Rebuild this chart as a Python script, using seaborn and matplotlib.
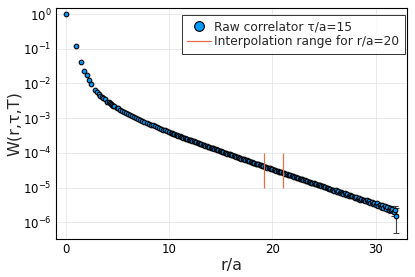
import matplotlib
matplotlib.use("Agg")
import numpy as np
import pandas as pd
import seaborn as sns
import matplotlib.pyplot as plt
from matplotlib.lines import Line2D
from matplotlib.ticker import NullLocator

# raw correlator W(r, tau=15) vs r/a
r_short = [0.0, 1.0, 1.414, 1.732, 2.0, 2.236, 2.449,
           2.828, 3.0, 3.162, 3.317, 3.464, 3.606, 3.742, 4.0, 4.123, 4.243,
           4.359, 4.472, 4.583, 4.69, 4.899, 5.0,
           5.2, 5.4, 5.6, 5.8, 6.0, 6.2, 6.4, 6.6, 6.8, 7.0,
           7.2, 7.4, 7.6, 7.8, 8.0, 8.2, 8.4, 8.6, 8.8, 9.0,
           9.2, 9.4, 9.6, 9.8, 10.0]
w_short = [1.0, 0.118, 0.041, 0.023, 0.0175, 0.0126, 0.0098,
           6.32e-3, 5.55e-3, 4.94e-3, 4.46e-3, 4.06e-3, 3.74e-3, 3.46e-3, 3.02e-3, 2.84e-3, 2.68e-3,
           2.54e-3, 2.41e-3, 2.29e-3, 2.19e-3, 2.00e-3, 1.92e-3,
           1.77e-3, 1.64e-3, 1.52e-3, 1.41e-3, 1.32e-3, 1.23e-3, 1.15e-3, 1.07e-3, 1.01e-3, 9.43e-4,
           8.86e-4, 8.33e-4, 7.83e-4, 7.38e-4, 6.95e-4, 6.55e-4, 6.18e-4, 5.84e-4, 5.52e-4, 5.21e-4,
           4.93e-4, 4.67e-4, 4.42e-4, 4.18e-4, 3.96e-4]

r_long = [10.125, 10.25, 10.375, 10.5, 10.625, 10.75, 10.875, 11.0,
          11.125, 11.25, 11.375, 11.5, 11.625, 11.75, 11.875, 12.0,
          12.125, 12.25, 12.375, 12.5, 12.625, 12.75, 12.875, 13.0,
          13.125, 13.25, 13.375, 13.5, 13.625, 13.75, 13.875, 14.0,
          14.125, 14.25, 14.375, 14.5, 14.625, 14.75, 14.875, 15.0,
          15.125, 15.25, 15.375, 15.5, 15.625, 15.75, 15.875, 16.0,
          16.125, 16.25, 16.375, 16.5, 16.625, 16.75, 16.875, 17.0,
          17.125, 17.25, 17.375, 17.5, 17.625, 17.75, 17.875, 18.0,
          18.125, 18.25, 18.375, 18.5, 18.625, 18.75, 18.875, 19.0,
          19.125, 19.25, 19.375, 19.5, 19.625, 19.75, 19.875, 20.0,
          20.125, 20.25, 20.375, 20.5, 20.625, 20.75, 20.875, 21.0,
          21.125, 21.25, 21.375, 21.5, 21.625, 21.75, 21.875, 22.0,
          22.125, 22.25, 22.375, 22.5, 22.625, 22.75, 22.875, 23.0,
          23.125, 23.25, 23.375, 23.5, 23.625, 23.75, 23.875, 24.0,
          24.125, 24.25, 24.375, 24.5, 24.625, 24.75, 24.875, 25.0,
          25.125, 25.25, 25.375, 25.5, 25.625, 25.75, 25.875, 26.0,
          26.125, 26.25, 26.375, 26.5, 26.625, 26.75, 26.875, 27.0,
          27.125, 27.25, 27.375, 27.5, 27.625, 27.75, 27.875, 28.0,
          28.125, 28.25, 28.375, 28.5, 28.625, 28.75, 28.875, 29.0,
          29.125, 29.25, 29.375, 29.5, 29.625, 29.75, 29.875, 30.0,
          30.125, 30.25, 30.375, 30.5, 30.625, 30.75, 30.875, 31.0,
          31.125, 31.25, 31.375, 31.5, 31.625, 31.75, 31.875, 32.0]
w_long = [3.83e-4, 3.71e-4, 3.59e-4, 3.47e-4, 3.36e-4, 3.25e-4, 3.14e-4, 3.04e-4,
          2.94e-4, 2.85e-4, 2.76e-4, 2.67e-4, 2.59e-4, 2.51e-4, 2.43e-4, 2.35e-4,
          2.28e-4, 2.20e-4, 2.14e-4, 2.07e-4, 2.00e-4, 1.94e-4, 1.88e-4, 1.82e-4,
          1.77e-4, 1.71e-4, 1.66e-4, 1.61e-4, 1.56e-4, 1.51e-4, 1.47e-4, 1.42e-4,
          1.38e-4, 1.34e-4, 1.30e-4, 1.26e-4, 1.22e-4, 1.18e-4, 1.15e-4, 1.11e-4,
          1.08e-4, 1.05e-4, 1.02e-4, 9.86e-5, 9.56e-5, 9.28e-5, 9.00e-5, 8.73e-5,
          8.47e-5, 8.22e-5, 7.98e-5, 7.74e-5, 7.51e-5, 7.29e-5, 7.07e-5, 6.87e-5,
          6.67e-5, 6.47e-5, 6.28e-5, 6.10e-5, 5.92e-5, 5.74e-5, 5.57e-5, 5.41e-5,
          5.25e-5, 5.10e-5, 4.95e-5, 4.81e-5, 4.67e-5, 4.53e-5, 4.40e-5, 4.27e-5,
          4.15e-5, 4.03e-5, 3.91e-5, 3.79e-5, 3.68e-5, 3.58e-5, 3.47e-5, 3.37e-5,
          3.27e-5, 3.18e-5, 3.09e-5, 3.00e-5, 2.91e-5, 2.83e-5, 2.75e-5, 2.67e-5,
          2.59e-5, 2.52e-5, 2.45e-5, 2.38e-5, 2.31e-5, 2.24e-5, 2.18e-5, 2.11e-5,
          2.05e-5, 1.99e-5, 1.94e-5, 1.88e-5, 1.83e-5, 1.77e-5, 1.72e-5, 1.68e-5,
          1.61e-5, 1.60e-5, 1.52e-5, 1.50e-5, 1.46e-5, 1.40e-5, 1.37e-5, 1.33e-5,
          1.30e-5, 1.26e-5, 1.20e-5, 1.19e-5, 1.16e-5, 1.10e-5, 1.09e-5, 1.06e-5,
          1.05e-5, 9.7e-6, 9.9e-6, 9.2e-6, 9.3e-6, 8.7e-6, 8.8e-6, 8.2e-6,
          8.4e-6, 7.7e-6, 7.9e-6, 7.2e-6, 7.6e-6, 6.9e-6, 6.7e-6, 6.9e-6,
          6.3e-6, 6.6e-6, 5.9e-6, 6.1e-6, 5.6e-6, 5.9e-6, 5.3e-6, 5.1e-6,
          5.4e-6, 4.8e-6, 5.1e-6, 4.5e-6, 4.8e-6, 4.3e-6, 4.5e-6, 4.0e-6,
          4.3e-6, 3.8e-6, 4.1e-6, 3.6e-6, 3.9e-6, 3.4e-6, 3.6e-6, 3.2e-6,
          3.5e-6, 3.0e-6, 3.2e-6, 2.8e-6, 3.1e-6, 2.6e-6, 2.9e-6, 2.5e-6,
          2.8e-6, 2.3e-6, 2.6e-6, 2.2e-6, 2.5e-6, 2.0e-6, 2.3e-6, 1.57e-6]

# error bars only visible on the last 16 points
err_tail = [0.25e-6, 0.2e-6, 0.3e-6, 0.25e-6, 0.3e-6, 0.3e-6, 0.35e-6, 0.3e-6,
            0.4e-6, 0.35e-6, 0.45e-6, 0.4e-6, 0.5e-6, 0.45e-6, 0.6e-6, 1.07e-6]

# interpolation range for r/a=20
interp_r = [19.2, 21.0]
interp_w = [1e-5, 1e-4]

BLUE = "#009AFA"
ORANGE = "#E26F46"

sns.set_style("white")
plt.rcParams["font.family"] = ["DejaVu Sans"]

df = pd.DataFrame({"r": r_short + r_long, "W": w_short + w_long})
n_tail = len(err_tail)

fig, ax = plt.subplots(figsize=(4.15, 2.77), dpi=100)
fig.subplots_adjust(left=0.135, right=0.981, bottom=0.137, top=0.971)

ax.errorbar(df["r"].values[-n_tail:], df["W"].values[-n_tail:], yerr=err_tail,
            fmt="none", ecolor="#404040", elinewidth=0.8, capsize=2, capthick=0.8, zorder=2)
sns.scatterplot(data=df, x="r", y="W", ax=ax, s=11, color=BLUE,
                edgecolor="black", linewidth=0.8, zorder=3, legend=False)
ax.vlines(interp_r, interp_w[0], interp_w[1], color=ORANGE, linewidth=0.9, zorder=4)

ax.set_yscale("log")
ax.set_xlim(-0.97, 33.05)
ax.set_ylim(3.3e-7, 1.49)
ax.set_xticks([0, 10, 20, 30])
ax.set_yticks([1e0, 1e-1, 1e-2, 1e-3, 1e-4, 1e-5, 1e-6])
ax.yaxis.set_minor_locator(NullLocator())

ax.grid(True, color="#e6e6e6", linewidth=0.6)
ax.set_axisbelow(True)
for sp in ax.spines.values():
    sp.set_color("black")
    sp.set_linewidth(0.8)
ax.tick_params(direction="in", length=3, width=0.7, labelsize=8.5, colors="black", pad=3)

ax.set_xlabel("r/a", fontsize=11.5, labelpad=1)
ax.set_ylabel("W(r,τ,T)", fontsize=11.5, labelpad=1)

handles = [
    Line2D([], [], marker="o", linestyle="", markerfacecolor=BLUE,
           markeredgecolor="black", markeredgewidth=0.8, markersize=7),
    Line2D([], [], color=ORANGE, linewidth=0.9),
]
leg = ax.legend(handles, ["Raw correlator τ/a=15", "Interpolation range for r/a=20"],
                loc="upper right", bbox_to_anchor=(0.994, 0.970), borderaxespad=0,
                fontsize=8.8, frameon=True, fancybox=False, handlelength=1.9,
                handletextpad=0.3, borderpad=0.45, labelspacing=0.15)
leg.get_frame().set_edgecolor("black")
leg.get_frame().set_linewidth(0.7)

fig.savefig("out.png", dpi=100)
